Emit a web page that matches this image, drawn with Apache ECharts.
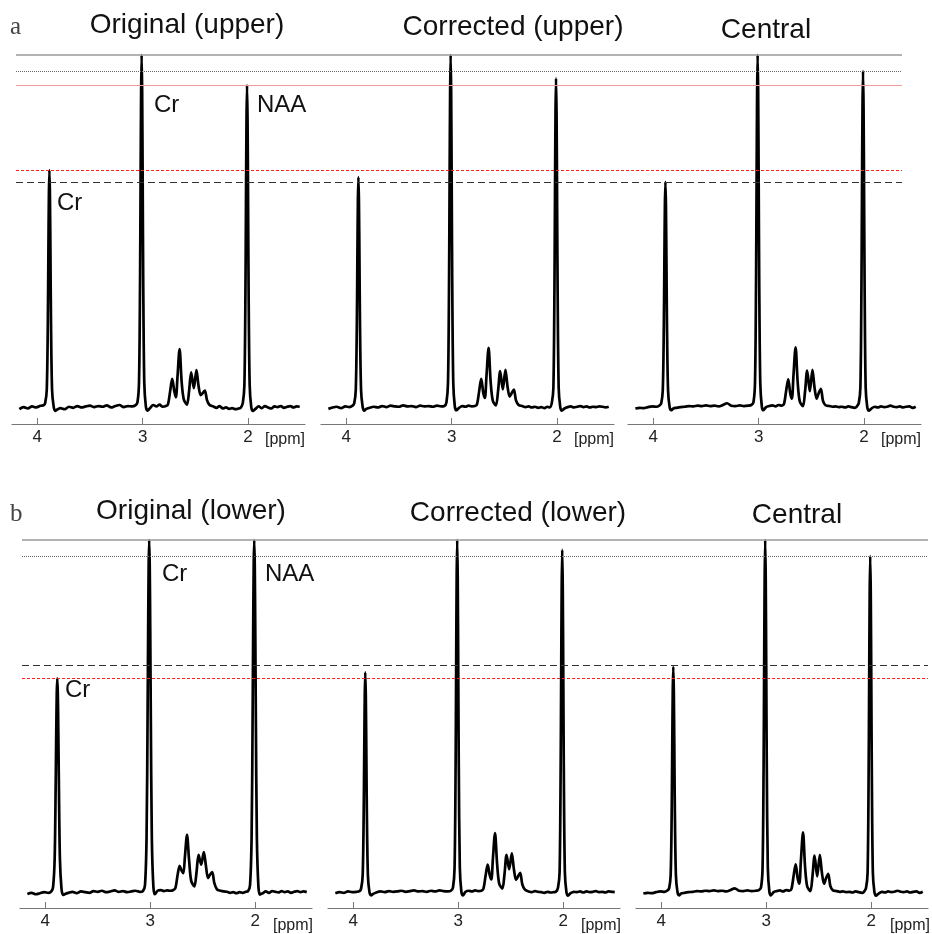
<!DOCTYPE html>
<html lang="en">
<head>
<meta charset="UTF-8">
<title>MRS spectra: original, corrected, central</title>
<script src="https://cdn.jsdelivr.net/npm/echarts@6.0.0/dist/echarts.min.js"></script>
<style>
    html, body { margin: 0; padding: 0; background: #fff; }
    #main { width: 932px; height: 934px; }
</style>
</head>
<body>
<div id="main"></div>
<script>
// chemical shift grid [ppm], shared by all spectra
var ppm = [
    4.17, 4.13, 4.09, 4.05, 4.01, 3.97, 3.94,
    3.925, 3.91, 3.90, 3.895, 3.89, 3.885, 3.88, 3.875, 3.87, 3.86, 3.845, 3.83, 3.81,
    3.78, 3.74, 3.70, 3.66, 3.62, 3.58, 3.54, 3.50, 3.46, 3.42, 3.38, 3.34, 3.30, 3.26, 3.22, 3.18, 3.14, 3.10, 3.07,
    3.05, 3.035, 3.025, 3.02, 3.015, 3.01, 3.005, 3.00, 2.995, 2.985, 2.97, 2.955,
    2.93, 2.90, 2.87, 2.84, 2.81, 2.78,
    2.76, 2.74, 2.72, 2.70, 2.685, 2.67, 2.65, 2.63, 2.61, 2.58, 2.56, 2.54, 2.515, 2.49, 2.47, 2.45, 2.43, 2.41, 2.39, 2.365,
    2.33, 2.30, 2.27, 2.24, 2.21, 2.18, 2.15, 2.12, 2.09, 2.07,
    2.05, 2.035, 2.025, 2.02, 2.015, 2.01, 2.005, 2.00, 1.995, 1.985, 1.97, 1.955,
    1.93, 1.90, 1.87, 1.84, 1.81, 1.78, 1.75, 1.72, 1.69, 1.66, 1.63, 1.60, 1.57, 1.54, 1.51
];

// intensities (Cr 3.0 ppm = 100)
var origUpper = [
    -0.6, 0.0, -0.4, 0.2, -0.1, 0.4, 0.5,
    1.2, 5.0, 24.2, 42.7, 60.1, 67.3, 60.1, 42.7, 24.2, 5.0, 0.2, -1.1, -0.7,
    -0.3, -0.6, 0.1, -0.2, 0.3, -0.1, 0.2, 0.4, 0.0, 0.3, 0.1, 0.5, -0.1, 0.3, 0.6, 0.0, 0.3, 0.2, 0.5,
    1.3, 6.9, 36.0, 63.5, 89.3, 100, 89.3, 63.5, 36.0, 6.9, 0.2, -1.0,
    -0.3, 0.6, 0.2, 0.7, 0.1, 0.3,
    0.8, 4.4, 8.0, 4.5, 2.8, 8.5, 16.5, 7.0, 2.2, 0.7, 4.5, 9.9, 5.4, 10.5, 6.0, 3.4, 4.0, 4.7, 2.0, 0.6,
    0.2, -0.2, 0.3, -0.4, -0.1, -0.5, -0.3, -0.6, -0.4, -0.2,
    1.2, 6.3, 32.9, 58.0, 81.6, 91.4, 81.6, 58.0, 32.9, 6.3, 0.0, -1.1,
    -0.5, 0.2, -0.3, 0.3, -0.1, -0.4, 0.2, 0.0, 0.3, -0.2, 0.1, 0.3, -0.1, 0.2, 0.1
];
var corrUpper = [
    -0.5, -0.1, 0.1, -0.3, 0.2, 0.0, 0.4,
    1.0, 4.9, 23.5, 41.5, 58.3, 65.3, 58.3, 41.5, 23.5, 4.9, 0.1, -1.0, -0.5,
    -0.2, 0.1, -0.1, 0.3, 0.0, 0.4, 0.2, 0.1, 0.5, 0.2, 0.3, 0.0, 0.4, 0.2, 0.3, 0.1, 0.4, 0.2, 0.3,
    1.3, 6.9, 36.0, 63.5, 89.3, 100, 89.3, 63.5, 36.0, 6.9, 0.1, -0.9,
    -0.2, 0.3, 0.1, 0.4, 0.2, 0.3,
    0.8, 4.4, 8.0, 4.0, 2.6, 8.8, 16.8, 7.0, 1.8, 0.5, 4.6, 10.2, 5.0, 10.6, 5.8, 3.0, 4.0, 5.0, 1.9, 0.6,
    0.3, 0.0, 0.2, -0.1, 0.1, -0.2, 0.0, -0.3, 0.1, -0.1,
    1.2, 5.5, 33.6, 59.3, 83.4, 93.4, 83.4, 59.3, 33.6, 5.5, 0.0, -1.0,
    -0.4, 0.0, 0.2, -0.1, 0.1, 0.3, 0.0, 0.2, -0.1, 0.1, 0.0, 0.2, 0.1, -0.1, 0.1
];
var central = [
    -0.4, -0.2, -0.3, 0.0, 0.2, 0.1, 0.5,
    1.0, 4.8, 23.0, 40.6, 57.2, 64.0, 57.2, 40.6, 23.0, 4.8, 0.0, -0.9, -0.4,
    -0.2, 0.0, 0.1, 0.3, 0.2, 0.4, 0.3, 0.5, 0.3, 0.4, 0.2, 0.6, 1.1, 0.4, 0.3, 0.5, 0.3, 0.4, 0.6,
    1.3, 6.9, 36.0, 63.5, 89.3, 100, 89.3, 63.5, 36.0, 6.9, 0.1, -0.9,
    0.0, 0.3, 0.5, 0.2, 0.6, 0.4,
    0.9, 4.5, 7.9, 3.8, 2.4, 9.0, 17.0, 7.0, 1.6, 0.3, 4.5, 10.4, 4.5, 10.6, 5.5, 2.4, 4.0, 5.2, 1.8, 0.5,
    0.3, 0.1, 0.2, 0.0, 0.1, -0.1, 0.2, 0.0, -0.2, 0.1,
    1.2, 5.6, 34.3, 60.6, 85.2, 95.4, 85.2, 60.6, 34.3, 5.6, 0.0, -1.0,
    -0.4, 0.1, -0.1, 0.2, 0.0, 0.1, 0.4, 0.1, 0.0, 0.2, -0.1, 0.1, 0.2, -0.2, 0.1
];
var origLower = [
    -0.5, -0.2, -0.6, -0.3, 0.0, -0.2, 0.3,
    1.5, 9.5, 31.2, 45.2, 56.4, 60.7, 56.4, 45.2, 31.2, 9.5, 1.0, -0.8, -0.5,
    -0.2, 0.1, -0.3, 0.2, 0.0, -0.2, 0.3, 0.1, 0.4, 0.0, 0.2, 0.5, 0.1, 0.3, 0.0, 0.2, 0.4, 0.1, 0.3,
    2.0, 15.7, 51.4, 74.4, 92.9, 100, 92.9, 74.4, 51.4, 15.7, 1.5, -0.6,
    0.4, 0.6, 0.3, 0.5, 0.4, 0.6,
    1.2, 4.8, 7.5, 6.0, 5.4, 10.0, 16.3, 9.0, 3.2, 1.6, 5.5, 10.6, 7.8, 11.4, 7.5, 4.0, 5.0, 5.7, 2.6, 0.8,
    0.4, 0.2, 0.1, -0.2, 0.0, -0.3, 0.0, -0.2, 0.1, 0.2,
    2.0, 15.7, 51.4, 74.4, 92.9, 100, 92.9, 74.4, 51.4, 15.7, 1.5, -0.7,
    -0.3, 0.2, -0.2, 0.3, 0.1, -0.1, 0.3, 0.0, 0.2, -0.2, 0.1, 0.3, 0.0, 0.2, 0.0
];
var corrLower = [
    -0.3, 0.0, -0.2, 0.2, 0.0, 0.1, 0.3,
    1.0, 4.7, 22.5, 39.6, 55.7, 62.4, 55.7, 39.6, 22.5, 4.7, 0.0, -0.9, -0.5,
    -0.1, 0.2, 0.0, 0.3, 0.1, 0.2, 0.4, 0.1, 0.3, 0.5, 0.2, 0.3, 0.1, 0.4, 0.2, 0.5, 0.3, 0.2, 0.4,
    1.3, 6.9, 36.0, 63.5, 89.3, 100, 89.3, 63.5, 36.0, 6.9, 0.1, -0.9,
    0.1, 0.4, 0.2, 0.5, 0.3, 0.4,
    1.0, 4.6, 7.8, 4.8, 3.6, 9.5, 16.8, 8.0, 2.4, 1.0, 5.0, 10.6, 6.5, 11.0, 6.5, 3.5, 4.5, 5.5, 2.2, 0.7,
    0.2, 0.0, 0.3, 0.1, 0.0, -0.2, 0.1, -0.1, 0.0, 0.1,
    1.3, 5.7, 35.0, 61.7, 86.8, 97.2, 86.8, 61.7, 35.0, 5.7, 0.0, -1.0,
    -0.3, 0.1, 0.0, 0.2, -0.1, 0.2, 0.0, 0.1, 0.3, 0.0, 0.1, -0.1, 0.2, 0.1, 0.0
];

var ppmTicks = [4, 3, 2];
var titlesA = ['Original (upper)', 'Corrected (upper)', 'Central'];
var titlesB = ['Original (lower)', 'Corrected (lower)', 'Central'];

// horizontal reference levels drawn across each row
var refLevelsA = [100, 95.4, 91.4, 67.3, 64.0];
var refLevelsB = [100, 95.4, 64.3, 60.7];

var lineKinds = {
    graySolid: {color: '#9a9a9a', width: 1.5, type: 'solid'},
    grayDot: {color: '#666', width: 1, type: [1, 1]},
    pinkLine: {color: '#f29a9a', width: 1, type: 'solid'},
    redDash: {color: '#ff2020', width: 1.1, type: [3, 2]},
    blackDash: {color: '#333', width: 1.2, type: [7, 4]}
};
var refKindsA = ['graySolid', 'grayDot', 'pinkLine', 'redDash', 'blackDash'];
var refKindsB = ['graySolid', 'grayDot', 'blackDash', 'redDash'];

var rows = [
    {top: 55, height: 369, yMin: -4.8, lefts: [12, 321, 628], width: 293,
     spectra: [origUpper, corrUpper, central], refLeft: 16, refWidth: 886,
     levels: refLevelsA, kinds: refKindsA},
    {top: 540, height: 368, yMin: -4.5, lefts: [20, 328, 636], width: 292,
     spectra: [origLower, corrLower, central], refLeft: 22, refWidth: 906,
     levels: refLevelsB, kinds: refKindsB}
];

var grids = [], xAxes = [], yAxes = [], series = [];

rows.forEach(function (row) {
    row.spectra.forEach(function (vals, k) {
        var idx = grids.length;
        grids.push({left: row.lefts[k], top: row.top, width: row.width, height: row.height,
                    outerBoundsMode: 'none'});
        xAxes.push({
            gridIndex: idx, type: 'value', inverse: true, min: 1.46, max: 4.24,
            axisLine: {show: true, onZero: false, lineStyle: {color: '#777', width: 1.2}},
            axisTick: {show: true, inside: true, length: 6, customValues: ppmTicks,
                       lineStyle: {color: '#777', width: 1}},
            axisLabel: {customValues: ppmTicks, margin: 5, fontSize: 17, color: '#222',
                        fontFamily: 'Liberation Sans'},
            splitLine: {show: false}
        });
        yAxes.push({gridIndex: idx, type: 'value', min: row.yMin, max: 100, show: false});
        series.push({
            type: 'line', xAxisIndex: idx, yAxisIndex: idx, z: 3,
            data: ppm.map(function (p, i) { return [p, vals[i]]; }),
            showSymbol: false, clip: false, smooth: 0.3,
            lineStyle: {color: '#000', width: 2.7, join: 'round'}
        });
    });

    // overlay grid spanning the row for the reference lines
    var oi = grids.length;
    grids.push({left: row.refLeft, top: row.top, width: row.refWidth, height: row.height,
                outerBoundsMode: 'none'});
    xAxes.push({gridIndex: oi, type: 'value', min: 0, max: 1, show: false});
    yAxes.push({gridIndex: oi, type: 'value', min: row.yMin, max: 100, show: false});
    series.push({
        type: 'line', xAxisIndex: oi, yAxisIndex: oi, z: 1,
        data: [[0, 0], [1, 0]], showSymbol: false, lineStyle: {opacity: 0},
        markLine: {
            silent: true, symbol: ['none', 'none'], label: {show: false},
            data: row.levels.map(function (v, i) {
                return {yAxis: v, lineStyle: lineKinds[row.kinds[i]]};
            })
        }
    });
});

function txt(text, x, y, size, family, align, color) {
    return {type: 'text', x: x, y: y, silent: true,
            style: {text: text, font: size + 'px "' + family + '"', fill: color || '#111',
                    align: align || 'center', verticalAlign: 'middle'}};
}

var graphics = [
    txt('a', 10, 27, 25, 'Liberation Serif', 'left', '#444'),
    txt(titlesA[0], 187, 25, 28, 'Liberation Sans'),
    txt(titlesA[1], 513, 27, 28, 'Liberation Sans'),
    txt(titlesA[2], 766, 30, 28, 'Liberation Sans'),
    txt('Cr', 154, 105, 24, 'Liberation Sans', 'left'),
    txt('NAA', 257, 105, 24, 'Liberation Sans', 'left'),
    txt('Cr', 57, 203, 24, 'Liberation Sans', 'left'),
    txt('[ppm]', 265, 440, 16, 'Liberation Sans', 'left', '#222'),
    txt('[ppm]', 574, 440, 16, 'Liberation Sans', 'left', '#222'),
    txt('[ppm]', 881, 440, 16, 'Liberation Sans', 'left', '#222'),

    txt('b', 10, 514, 25, 'Liberation Serif', 'left', '#444'),
    txt(titlesB[0], 191, 511, 28, 'Liberation Sans'),
    txt(titlesB[1], 518, 513, 28, 'Liberation Sans'),
    txt(titlesB[2], 797, 515, 28, 'Liberation Sans'),
    txt('Cr', 162, 574, 24, 'Liberation Sans', 'left'),
    txt('NAA', 265, 574, 24, 'Liberation Sans', 'left'),
    txt('Cr', 65, 690, 24, 'Liberation Sans', 'left'),
    txt('[ppm]', 273, 926, 16, 'Liberation Sans', 'left', '#222'),
    txt('[ppm]', 581, 926, 16, 'Liberation Sans', 'left', '#222'),
    txt('[ppm]', 890, 926, 16, 'Liberation Sans', 'left', '#222')
];

var chart = echarts.init(document.getElementById('main'), null, {renderer: 'canvas'});
chart.setOption({
    animation: false,
    backgroundColor: '#fff',
    grid: grids,
    xAxis: xAxes,
    yAxis: yAxes,
    series: series,
    graphic: graphics
});
</script>
</body>
</html>
